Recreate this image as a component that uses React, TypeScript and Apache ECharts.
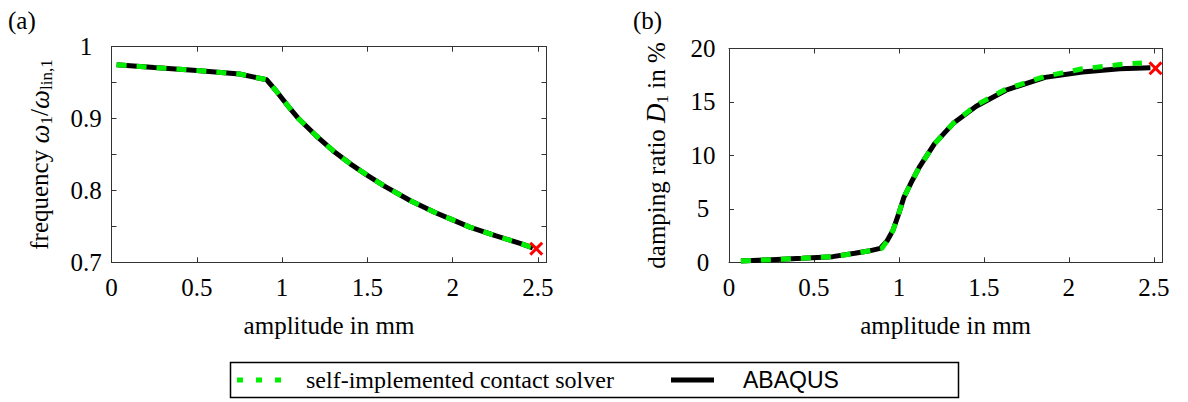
import React, { useEffect, useRef } from "react";
import * as echarts from "echarts";

// ---- data ----
const freqX = [0.03, 0.25, 0.5, 0.75, 0.91, 0.96, 1.0, 1.05, 1.1, 1.2, 1.3, 1.4, 1.5, 1.6, 1.75, 1.9, 2.0, 2.1, 2.25, 2.4, 2.47];
const freqAbaqus = [0.975, 0.971, 0.967, 0.962, 0.954, 0.94, 0.928, 0.913, 0.899, 0.876, 0.855, 0.837, 0.821, 0.806, 0.786, 0.769, 0.759, 0.749, 0.737, 0.726, 0.72];
const freqSolver = [0.975, 0.971, 0.967, 0.962, 0.954, 0.94, 0.928, 0.913, 0.899, 0.876, 0.855, 0.837, 0.821, 0.806, 0.786, 0.769, 0.759, 0.749, 0.737, 0.726, 0.72];
const freqEnd = [2.49, 0.719];

const dampAbaqusX = [0.07, 0.25, 0.43, 0.61, 0.74, 0.82, 0.89, 0.93, 0.965, 1.0, 1.03, 1.08, 1.12, 1.21, 1.32, 1.455, 1.63, 1.86, 2.08, 2.3, 2.48];
const dampAbaqus = [0.12, 0.25, 0.37, 0.53, 0.84, 1.05, 1.3, 2.0, 3.0, 4.6, 6.1, 7.7, 8.9, 11.1, 13.0, 14.6, 16.1, 17.3, 17.8, 18.1, 18.2];
const dampSolverX = [0.07, 0.25, 0.43, 0.61, 0.74, 0.82, 0.9, 0.93, 0.965, 1.0, 1.03, 1.08, 1.12, 1.21, 1.32, 1.455, 1.63, 1.86, 2.08, 2.3, 2.43];
const dampSolver = [0.12, 0.25, 0.37, 0.53, 0.84, 1.05, 1.3, 2.0, 3.0, 4.6, 6.1, 7.7, 8.9, 11.1, 13.0, 14.7, 16.2, 17.4, 18.1, 18.5, 18.65];
const dampEnd = [2.51, 18.15];

const xTicks = [0, 0.5, 1, 1.5, 2, 2.5];
const freqTicks = [0.7, 0.75, 0.8, 0.85, 0.9, 0.95, 1];
const freqLabels = [0.7, 0.8, 0.9, 1];
const dampTicks = [0, 5, 10, 15, 20];

const seriesNames = ["self-implemented contact solver", "ABAQUS"];

const SERIF = "Liberation Serif";
const SANS = "Liberation Sans";
const GREEN = "#00ee00";
const AXIS = "#333";

const zip = (xs: number[], ys: number[]) => xs.map((x, i) => [x, ys[i]]);

const XMARK = "path://M1.5,0 L5,3.5 L8.5,0 L10,1.5 L6.5,5 L10,8.5 L8.5,10 L5,6.5 L1.5,10 L0,8.5 L3.5,5 L0,1.5 Z";

function xAxes(gridIndex: number) {
  const base = {
    gridIndex,
    type: "value" as const,
    min: 0,
    max: 2.55,
    axisLine: { show: true, onZero: false, lineStyle: { color: AXIS, width: 1 } },
    axisTick: { show: true, inside: true, length: 5, customValues: xTicks, lineStyle: { color: AXIS } },
    splitLine: { show: false },
  };
  return [
    {
      ...base,
      position: "bottom",
      name: "amplitude in mm",
      nameLocation: "middle",
      nameGap: 51,
      nameTextStyle: { fontFamily: SERIF, fontSize: 25, color: "#000" },
      axisLabel: { customValues: xTicks, fontFamily: SERIF, fontSize: 25, color: "#000", margin: 13 },
    },
    { ...base, position: "top", axisLabel: { show: false } },
  ];
}

function yAxes(gridIndex: number, min: number, max: number, ticks: number[], labels: number[], name: string, rich: any, nameGap: number, labelMargin: number) {
  const base = {
    gridIndex,
    type: "value" as const,
    min,
    max,
    axisLine: { show: true, onZero: false, lineStyle: { color: AXIS, width: 1 } },
    axisTick: { show: true, inside: true, length: 5, customValues: ticks, lineStyle: { color: AXIS } },
    splitLine: { show: false },
  };
  return [
    {
      ...base,
      position: "left",
      name,
      nameLocation: "middle",
      nameRotate: 90,
      nameGap,
      nameTextStyle: { fontFamily: SERIF, fontSize: 25, color: "#000", rich },
      axisLabel: { customValues: labels, fontFamily: SERIF, fontSize: 25, color: "#000", margin: labelMargin, align: "center" },
    },
    { ...base, position: "right", axisLabel: { show: false } },
  ];
}

const richBase = {
  t: { fontFamily: SERIF, fontSize: 25, color: "#000", lineHeight: 30 },
  w: { fontFamily: SERIF, fontSize: 27, fontStyle: "italic", color: "#000", lineHeight: 30 },
  s: { fontFamily: SERIF, fontSize: 17, color: "#000", lineHeight: 17, verticalAlign: "bottom" },
};

export default function App() {
  const ref = useRef<HTMLDivElement>(null);
  useEffect(() => {
    if (!ref.current) return;
    const chart = echarts.init(ref.current, undefined, { renderer: "svg" });
    const lineCommon = { type: "line" as const, showSymbol: false, symbol: "none", smooth: false };
    chart.setOption({
      animation: false,
      backgroundColor: "#fff",
      textStyle: { fontFamily: SERIF },
      grid: [
        { left: 111.5, top: 46.7, width: 435, height: 215.6 },
        { left: 729, top: 48.5, width: 433.3, height: 213.8 },
      ],
      xAxis: [...xAxes(0), ...xAxes(1)],
      yAxis: [
        ...yAxes(0, 0.7, 1, freqTicks, freqLabels, "{t|frequency }{w|ω}{s|1}{t|/}{w|ω}{s|lin,1}", richBase, 57, 25.5),
        ...yAxes(1, 0, 20, dampTicks, dampTicks, "{t|damping ratio }{w|D}{s|1}{t| in %}", richBase, 58, 26),
      ],
      series: [
        { ...lineCommon, name: seriesNames[1], xAxisIndex: 0, yAxisIndex: 0, data: zip(freqX, freqAbaqus), lineStyle: { color: "#000", width: 5 }, itemStyle: { color: "#000" }, z: 2 },
        { ...lineCommon, name: seriesNames[0], xAxisIndex: 0, yAxisIndex: 0, data: zip(freqX, freqSolver), lineStyle: { color: GREEN, width: 5, type: [10, 10] }, itemStyle: { color: GREEN }, z: 3 },
        { type: "scatter", name: "end", xAxisIndex: 0, yAxisIndex: 0, data: [freqEnd], symbol: XMARK, symbolSize: 14, itemStyle: { color: "#ff0000", opacity: 1 }, z: 4 },
        { ...lineCommon, name: seriesNames[1], xAxisIndex: 2, yAxisIndex: 2, data: zip(dampAbaqusX, dampAbaqus), lineStyle: { color: "#000", width: 5 }, itemStyle: { color: "#000" }, z: 2 },
        { ...lineCommon, name: seriesNames[0], xAxisIndex: 2, yAxisIndex: 2, data: zip(dampSolverX, dampSolver), lineStyle: { color: GREEN, width: 5, type: [10, 10] }, itemStyle: { color: GREEN }, z: 3 },
        { type: "scatter", name: "end", xAxisIndex: 2, yAxisIndex: 2, data: [dampEnd], symbol: XMARK, symbolSize: 14, itemStyle: { color: "#ff0000", opacity: 1 }, z: 4 },
      ],
      graphic: [
        { type: "text", left: 8, top: 8, style: { text: "(a)", fontFamily: SERIF, fontSize: 25, fill: "#000" } },
        { type: "text", left: 633, top: 8, style: { text: "(b)", fontFamily: SERIF, fontSize: 25, fill: "#000" } },
        { type: "rect", shape: { x: 230.5, y: 362.5, width: 728, height: 35 }, style: { fill: "none", stroke: "#000", lineWidth: 1.5 } },
        { type: "line", shape: { x1: 237, y1: 380, x2: 283, y2: 380 }, style: { stroke: GREEN, lineWidth: 5, lineDash: [6, 13] } },
        { type: "text", x: 306, y: 380, style: { text: seriesNames[0], fontFamily: SERIF, fontSize: 24, fill: "#000", verticalAlign: "middle" } },
        { type: "line", shape: { x1: 671, y1: 380, x2: 714, y2: 380 }, style: { stroke: "#000", lineWidth: 5 } },
        { type: "text", x: 743, y: 380, style: { text: seriesNames[1], fontFamily: SANS, fontSize: 23, fill: "#000", verticalAlign: "middle" } },
      ],
    });
    return () => chart.dispose();
  }, []);
  return <div ref={ref} style={{ position: "absolute", left: 0, top: 0, width: 1188, height: 402 }} />;
}
